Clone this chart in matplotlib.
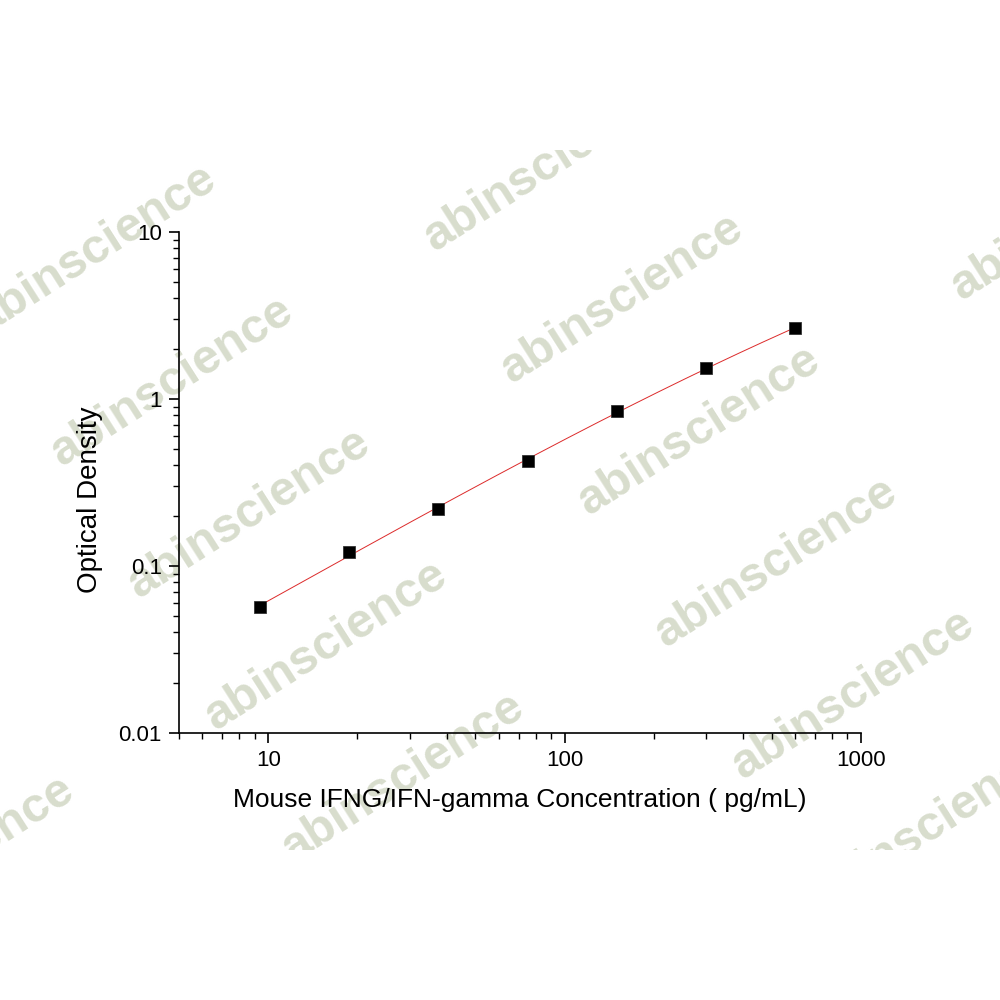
import numpy as np
import matplotlib
matplotlib.use("Agg")
import matplotlib.pyplot as plt
from matplotlib.transforms import Bbox, TransformedBbox
from matplotlib.ticker import LogLocator, NullFormatter

plt.rcParams["font.family"] = ["Liberation Sans", "DejaVu Sans"]

# standard curve readings
concentration = [9.375, 18.75, 37.5, 75, 150, 300, 600]
optical_density = [0.057, 0.121, 0.219, 0.426, 0.847, 1.53, 2.66]

x_label = "Mouse IFNG/IFN-gamma Concentration ( pg/mL)"
y_label = "Optical Density"
watermark = "abinscience"

fig = plt.figure(figsize=(10, 10), dpi=100)
ax = fig.add_axes([0.179, 0.267, 0.682, 0.501])
ax.patch.set_alpha(0)
ax.set_zorder(2)

# watermark tiles, clipped to the band the original image shows them in
clip = TransformedBbox(Bbox([[0, 0.15], [1, 0.85]]), fig.transFigure)
for i in range(-2, 7):
    for j in range(-1, 4):
        cx = 95 + 77 * i + 450 * j
        cy = 250 + 132 * i - 83 * j
        # skip tiles that would fall completely outside the visible band
        ends = [(cx - 117, cy + 75), (cx + 117, cy - 75)]
        ts = np.linspace(0, 1, 30)
        px = ends[0][0] + ts * (ends[1][0] - ends[0][0])
        py = ends[0][1] + ts * (ends[1][1] - ends[0][1])
        inside = (px > 10) & (px < 990) & (py > 165) & (py < 835)
        if not inside.any():
            continue
        t = fig.text(cx / 1000, 1 - cy / 1000, watermark, fontsize=35,
                     fontweight="bold", color="#d8ddcd", rotation=32.5,
                     ha="center", va="center", rotation_mode="anchor",
                     zorder=0)
        t.set_clip_box(clip)
        t.set_clip_on(True)

# fitted curve (cubic in log-log space through the standards)
lx = np.log10(concentration)
ly = np.log10(optical_density)
coef = np.polyfit(lx, ly, 3)
xs = np.linspace(lx[0], lx[-1], 200)
ax.plot(10 ** xs, 10 ** np.polyval(coef, xs), color="#dc2a2a", lw=0.7, zorder=2)

ax.plot(concentration, optical_density, "s", color="black", markersize=8,
        markeredgecolor="#333333", markeredgewidth=0.6, zorder=3)

ax.set_xscale("log")
ax.set_yscale("log")
ax.set_xlim(5, 1000)
ax.set_ylim(0.01, 10)

for side in ["top", "right"]:
    ax.spines[side].set_visible(False)
for side in ["left", "bottom"]:
    ax.spines[side].set_linewidth(1.2)

ax.xaxis.set_minor_locator(LogLocator(base=10, subs=np.arange(2, 10)))
ax.yaxis.set_minor_locator(LogLocator(base=10, subs=np.arange(2, 10)))
ax.xaxis.set_minor_formatter(NullFormatter())
ax.yaxis.set_minor_formatter(NullFormatter())
ax.set_xticks([10, 100, 1000])
ax.set_xticklabels(["10", "100", "1000"])
ax.set_yticks([0.01, 0.1, 1, 10])
ax.set_yticklabels(["0.01", "0.1", "1", "10"])

ax.tick_params(which="major", direction="out", length=7.5, width=1.2,
               labelsize=16, pad=5)
ax.tick_params(which="minor", direction="out", length=4.5, width=1.0)

ax.set_xlabel(x_label, fontsize=19, labelpad=12)
ax.set_ylabel(y_label, fontsize=20)
ax.yaxis.set_label_coords(-0.112, 0.465)

fig.savefig("out.png", dpi=100, facecolor="white")
